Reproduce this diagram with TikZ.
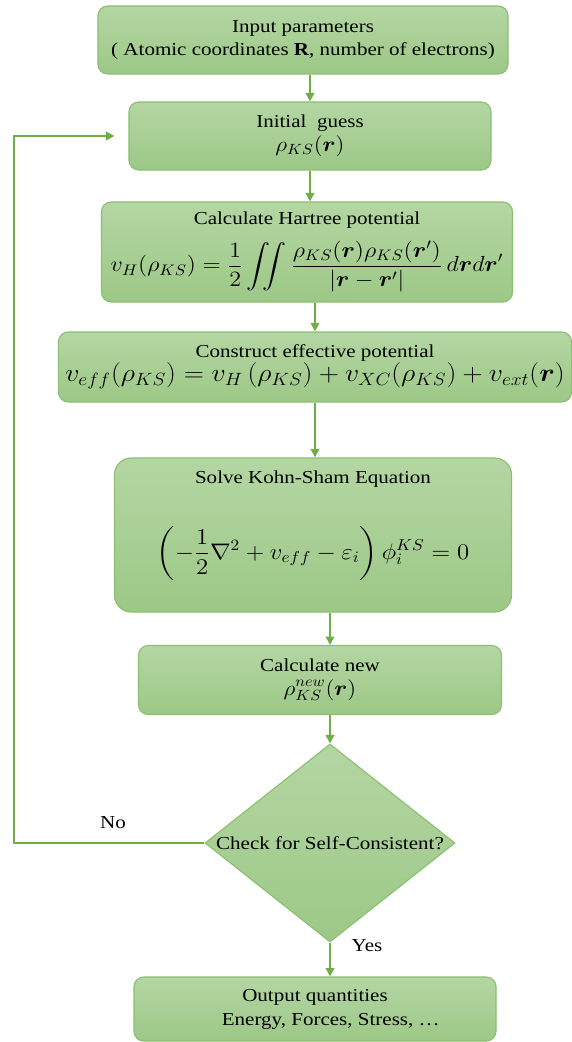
\RequirePackage{fix-cm}
\documentclass[tikz,border=0pt]{standalone}
\usepackage{amsmath,amssymb,bm}
\usepackage{graphicx}
\usepackage{fontspec}
\setmainfont[FakeStretch=1.15]{Liberation Serif}
\usetikzlibrary{arrows.meta,calc,positioning,shapes.geometric}
\definecolor{leafline}{HTML}{70AD47}
\definecolor{leaftop}{HTML}{B4D6A3}
\definecolor{leafbot}{HTML}{9CC886}
\definecolor{leafedge}{HTML}{8CBF72}
\newcommand{\eqn}[2][15]{\scalebox{1.1}[1]{\fontsize{#1}{18}\selectfont$\displaystyle #2$}}

\begin{document}
\begin{tikzpicture}[x=0.025cm,y=-0.025cm,>={Triangle[width=6pt,length=6pt]},
  font=\fontsize{13}{17}\selectfont,
  stage/.style={draw=leafedge,line width=0.8pt,rounded corners=7pt,
    top color=leaftop,bottom color=leafbot,align=center,inner sep=0pt},
  check/.style={diamond,draw=leafedge,line width=0.8pt,
    top color=leaftop,bottom color=leafbot,inner sep=0pt,
    minimum width=6.25cm,minimum height=4.95cm},
  flow/.style={->,draw=leafline,line width=1.5pt}]
  \useasboundingbox (0,0) rectangle (572,1042);
  % 各ステップ
  \node[stage,minimum width=10.25cm,minimum height=1.7cm] (inp) at (303,40)
    {Input parameters\\( Atomic coordinates \textbf{R}, number of electrons)};
  \node[stage,minimum width=9.05cm,minimum height=1.7cm] (ig) at (310,136)
    {Initial\ \ guess\\\eqn{\rho_{KS}(\boldsymbol{r})}};
  \node[stage,minimum width=10.275cm,minimum height=2.5cm] (hp) at (307,252)
    {Calculate Hartree potential\\[8pt]
     \eqn[15.5]{v_H(\rho_{KS}) = \frac{1}{2}\iint \frac{\rho_{KS}(\boldsymbol{r})\rho_{KS}(\boldsymbol{r}')}{|\boldsymbol{r}-\boldsymbol{r}'|}\,d\boldsymbol{r}d\boldsymbol{r}'}};
  \node[stage,minimum width=12.825cm,minimum height=1.75cm] (cep) at (315,367)
    {Construct effective potential\\
     \eqn[18]{v_{eff}(\rho_{KS}) = v_H\,(\rho_{KS}) + v_{XC}(\rho_{KS}) + v_{ext}(\boldsymbol{r})}};
  \node[stage,minimum width=9.925cm,minimum height=3.85cm,rounded corners=12pt] (ks) at (313,535)
    {Solve Kohn-Sham Equation\\[9.5mm]
     \eqn[16]{\left(-\frac{1}{2}\nabla^2 + v_{eff} - \varepsilon_i\right)\phi_i^{KS} = 0}\\[4mm]\mbox{}};
  \node[stage,minimum width=9.075cm,minimum height=1.725cm] (new) at (320,680)
    {Calculate new\\\eqn{\rho_{KS}^{new}(\boldsymbol{r})}};
  \node[check,label={center:Check for Self-Consistent?}] (chk) at (330,843) {};
  \node[stage,minimum width=9.05cm,minimum height=1.6cm] (out) at (315,1009)
    {Output quantities\\\ \ \ \ \ \ Energy, Forces, Stress, \dots};
  % 矢印
  \draw[flow] (ig.north |- inp.south) -- (ig.north);
  \draw[flow] (ig.south) -- (ig.south |- hp.north);
  \draw[flow] (hp.south -| cep.north) -- (cep.north);
  \draw[flow] (cep.south) -- (cep.south |- ks.north);
  \draw[flow] (ks.south -| chk.north) -- (new.north -| chk.north);
  \draw[flow] (new.south -| chk.north) -- (chk.north);
  \draw[flow] (chk.south) -- (chk.south |- out.north);
  % 戻り
  \coordinate (back) at (14,136);
  \draw[flow,shorten >=0.35cm] (chk.west) -| (back) -- (ig.west);
  \node (no) at (113,823) {No};
  \node (yes) at (367,946) {Yes};
\end{tikzpicture}
\end{document}
